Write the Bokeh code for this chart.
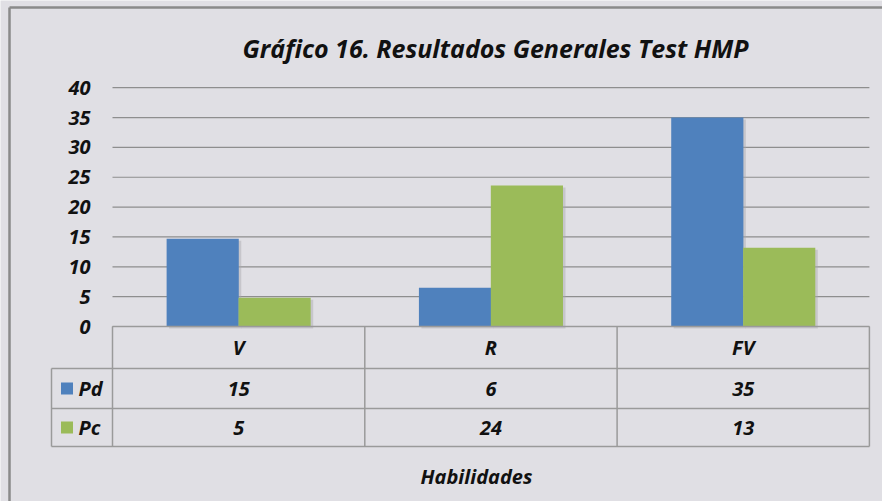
from bokeh.plotting import figure
from bokeh.models import Range1d
from bokeh.core.properties import value
from bokeh.embed import file_html
from bokeh.resources import INLINE

# ---- data ----
categories = ["V", "R", "FV"]
series_names = ["Pd", "Pc"]
pd_values = [14.7, 6.5, 35.0]
pc_values = [4.8, 23.6, 13.2]
pd_table = ["15", "6", "35"]
pc_table = ["5", "24", "13"]
y_ticks = [0, 5, 10, 15, 20, 25, 30, 35, 40]
title_text = "Gráfico 16. Resultados Generales Test HMP"
x_title = "Habilidades"

# ---- style ----
BG = "#E0DFE4"
BLUE = "#4F81BD"
GREEN = "#9BBB59"
GRID = "#8E8E8E"
TABLE = "#9A9A9A"
FONT = value("Open Sans")

W, H = 882, 501
CAT_PX = 252.3      # px per category
Y_PX = 5.97         # px per y unit
X0_SCREEN = 112.0   # px from left to category 0
Y0_SCREEN = 326.0   # px from top to y = 0

def xd(px):
    return (px - X0_SCREEN) / CAT_PX

def yd(py):
    return (Y0_SCREEN - py) / Y_PX

p = figure(width=W, height=H, output_backend="svg", toolbar_location=None,
           x_range=Range1d(xd(0), xd(W)), y_range=Range1d(yd(H), yd(0)),
           min_border=0, tools="")
p.axis.visible = False
p.grid.visible = False
p.outline_line_color = None
p.background_fill_color = BG
p.border_fill_color = BG

n = len(categories)
centers = [i + 0.5 for i in range(n)]
bw = 0.286
off = 0.1425

# gridlines
p.segment(x0=[0] * len(y_ticks), x1=[n] * len(y_ticks), y0=y_ticks, y1=y_ticks,
          line_color=GRID, line_width=1.2)

# bar shadows
sh_dx = 2.5 / CAT_PX
sh_dy = 2.0 / Y_PX
pd_x = [c - off for c in centers]
pc_x = [c + off for c in centers]
p.vbar(x=[x + sh_dx for x in pd_x + pc_x], width=bw, bottom=-sh_dy,
       top=[v - sh_dy for v in pd_values + pc_values],
       fill_color="#A8A8AE", fill_alpha=0.45, line_color=None)

p.vbar(x=pd_x, width=bw, top=pd_values, bottom=0, fill_color=BLUE, line_color=None)
p.vbar(x=pc_x, width=bw, top=pc_values, bottom=0, fill_color=GREEN, line_color=None)

# data table
r1 = yd(368)
r2 = yd(408)
r3 = yd(446)
leg_left = xd(51)
p.segment(x0=[0, leg_left, leg_left, leg_left], x1=[n, n, n, n],
          y0=[0, r1, r2, r3], y1=[0, r1, r2, r3], line_color=TABLE, line_width=1.5)
vx = [0] + [i + 1 for i in range(n)]
p.segment(x0=vx, x1=vx, y0=[0] * len(vx), y1=[r3] * len(vx),
          line_color=TABLE, line_width=1.5)
p.segment(x0=[leg_left], x1=[leg_left], y0=[r1], y1=[r3], line_color=TABLE, line_width=1.5)

txt = dict(text_font=FONT, text_font_style="bold italic", text_font_size="20px",
           text_color="#111111", text_baseline="middle")
p.text(x=centers, y=[(0 + r1) / 2] * n, text=categories, text_align="center", **txt)
p.text(x=centers, y=[(r1 + r2) / 2] * n, text=pd_table, text_align="center", **txt)
p.text(x=centers, y=[(r2 + r3) / 2] * n, text=pc_table, text_align="center", **txt)

# legend keys in table
row_y = [(r1 + r2) / 2, (r2 + r3) / 2]
p.rect(x=[xd(66.5)] * 2, y=row_y, width=12, height=12, width_units="screen",
       height_units="screen", fill_color=[BLUE, GREEN], line_color=None)
p.text(x=[xd(78)] * 2, y=row_y, text=series_names, text_align="left", **txt)

# y tick labels
p.text(x=[xd(90)] * len(y_ticks), y=y_ticks, text=[str(t) for t in y_ticks],
       text_align="right", **txt)

# title and x title
p.text(x=[xd(495)], y=[yd(47)], text=[title_text], text_align="center",
       text_baseline="middle", text_font=FONT, text_font_style="bold italic",
       text_font_size="25px", text_color="#111111")
p.text(x=[xd(476)], y=[yd(476)], text=[x_title], text_align="center", **txt)

# chart border (left and top)
p.segment(x0=[xd(9), xd(9)], x1=[xd(9), xd(W)], y0=[yd(7), yd(7)], y1=[yd(H), yd(7)],
          line_color="#8A8A8A", line_width=2.5)

open("out.html", "w").write(file_html(p, INLINE))
